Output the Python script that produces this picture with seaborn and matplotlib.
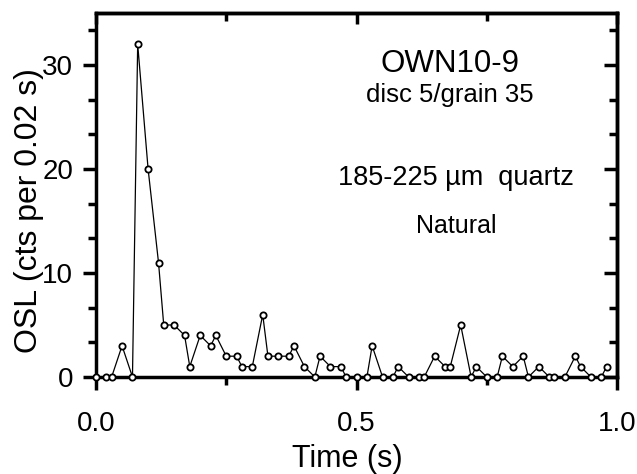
import matplotlib
matplotlib.use("Agg")
import matplotlib.pyplot as plt
import seaborn as sns
from matplotlib.ticker import MultipleLocator, AutoMinorLocator, NullFormatter

# OSL decay curve of a single grain
time_s = [0.00, 0.02, 0.03, 0.05, 0.07, 0.08, 0.10, 0.12, 0.13, 0.15,
          0.17, 0.18, 0.20, 0.22, 0.23, 0.25, 0.27, 0.28, 0.30, 0.32,
          0.33, 0.35, 0.37, 0.38, 0.40, 0.42, 0.43, 0.45, 0.47, 0.48,
          0.50, 0.52, 0.53, 0.55, 0.57, 0.58, 0.60, 0.62, 0.63, 0.65,
          0.67, 0.68, 0.70, 0.72, 0.73, 0.75, 0.77, 0.78, 0.80, 0.82,
          0.83, 0.85, 0.87, 0.88, 0.90, 0.92, 0.93, 0.95, 0.97, 0.98]
counts = [0, 0, 0, 3, 0, 32, 20, 11, 5, 5,
          4, 1, 4, 3, 4, 2, 2, 1, 1, 6,
          2, 2, 2, 3, 1, 0, 2, 1, 1, 0,
          0, 0, 3, 0, 0, 1, 0, 0, 0, 2,
          1, 1, 5, 0, 1, 0, 0, 2, 1, 2,
          0, 1, 0, 0, 0, 2, 1, 0, 0, 1]

sns.set_theme(style="ticks", rc={"axes.edgecolor": "black", "xtick.color": "black",
                                 "ytick.color": "black", "text.color": "black",
                                 "axes.labelcolor": "black"})
plt.rcParams["font.family"] = ["Liberation Sans", "DejaVu Sans"]

fig = plt.figure(figsize=(6.37, 4.74), dpi=100)
ax = fig.add_axes([96/637, 97/474, 521/637, 364/474])

sns.lineplot(x=time_s, y=counts, ax=ax, color="black", lw=0.9,
             marker="o", ms=4.5, mfc="white", mec="black", mew=1.3,
             clip_on=False, zorder=3)

ax.set_xlim(0, 1.0)
ax.set_ylim(0, 35)
ax.xaxis.set_major_locator(MultipleLocator(0.5))
ax.xaxis.set_minor_locator(AutoMinorLocator(2))
ax.yaxis.set_major_locator(MultipleLocator(10))
ax.yaxis.set_minor_locator(AutoMinorLocator(3))
ax.set_xticks([0, 0.5, 1.0], ["0.0", "0.5", "1.0"])

for sp in ax.spines.values():
    sp.set_linewidth(2.5)
ax.tick_params(which="both", direction="out", width=2.5, labelsize=20)
ax.tick_params(which="major", length=9.4)
ax.tick_params(which="minor", length=5.5)
ax.tick_params(axis="x", pad=15)
ax.tick_params(axis="y", pad=7)

# inward ticks on top and right
top = ax.secondary_xaxis("top")
top.xaxis.set_major_locator(MultipleLocator(0.5))
top.xaxis.set_minor_locator(AutoMinorLocator(2))
top.xaxis.set_major_formatter(NullFormatter())
top.tick_params(which="both", direction="in", width=2.5)
top.tick_params(which="major", length=8)
top.tick_params(which="minor", length=5.5)
right = ax.secondary_yaxis("right")
right.yaxis.set_major_locator(MultipleLocator(10))
right.yaxis.set_minor_locator(AutoMinorLocator(3))
right.yaxis.set_major_formatter(NullFormatter())
right.tick_params(which="both", direction="in", width=2.5)
right.tick_params(which="major", length=9.4)
right.tick_params(which="minor", length=5.5)
for sec in (top, right):
    for sp in sec.spines.values():
        sp.set_linewidth(2.5)

ax.set_xlabel("Time (s)", fontsize=22)
ax.set_ylabel("OSL (cts per 0.02 s)", fontsize=23)
ax.xaxis.set_label_coords(0.482, -0.183)
ax.yaxis.set_label_coords(-0.100, 0.456)

ax.text(0.679, 0.838, "OWN10-9", transform=ax.transAxes, ha="center",
        va="baseline", fontsize=22.5)
ax.text(0.679, 0.755, "disc 5/grain 35", transform=ax.transAxes, ha="center",
        va="baseline", fontsize=18.5)
ax.text(0.691, 0.527, "185-225 \u00b5m  quartz", transform=ax.transAxes,
        ha="center", va="baseline", fontsize=19.5)
ax.text(0.691, 0.396, "Natural", transform=ax.transAxes, ha="center",
        va="baseline", fontsize=18)

fig.savefig("out.png", dpi=100)
